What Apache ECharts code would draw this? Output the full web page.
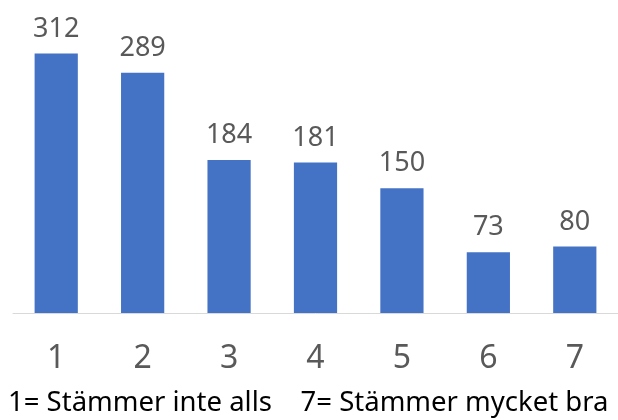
<!DOCTYPE html>
<html>
<head>
<meta charset="utf-8">
<script src="https://cdn.jsdelivr.net/npm/echarts@6/dist/echarts.min.js"></script>
<style>
  html, body { margin: 0; padding: 0; background: #fff; }
  #chart { width: 618px; height: 420px; }
</style>
</head>
<body>
<div id="chart"></div>
<script>
const categories = ['1', '2', '3', '4', '5', '6', '7'];
const counts = [312, 289, 184, 181, 150, 73, 80];
const footnote = '1= Stämmer inte alls    7= Stämmer mycket bra';

const chart = echarts.init(document.getElementById('chart'));
const font = 'Noto Sans, sans-serif';

chart.setOption({
    animation: false,
    backgroundColor: '#fff',
    title: {
        text: footnote,
        left: 8,
        bottom: 3,
        padding: 0,
        textStyle: { fontFamily: font, fontSize: 27.5, fontWeight: 'normal', color: '#000' }
    },
    grid: { left: 13, right: 0, top: 22, bottom: 107 },
    xAxis: {
        type: 'category',
        data: categories,
        axisLine: { lineStyle: { color: '#d9d9d9', width: 1 } },
        axisTick: { show: false },
        axisLabel: { color: '#595959', fontSize: 32, fontFamily: font, margin: 30 }
    },
    yAxis: {
        type: 'value',
        min: 0,
        max: 350,
        show: false,
        splitLine: { show: false }
    },
    series: [{
        type: 'bar',
        data: counts,
        barWidth: '50%',
        itemStyle: { color: '#4472c4' },
        label: {
            show: true,
            position: 'top',
            distance: 11,
            color: '#595959',
            fontSize: 27,
            fontFamily: font
        }
    }]
});
</script>
</body>
</html>
